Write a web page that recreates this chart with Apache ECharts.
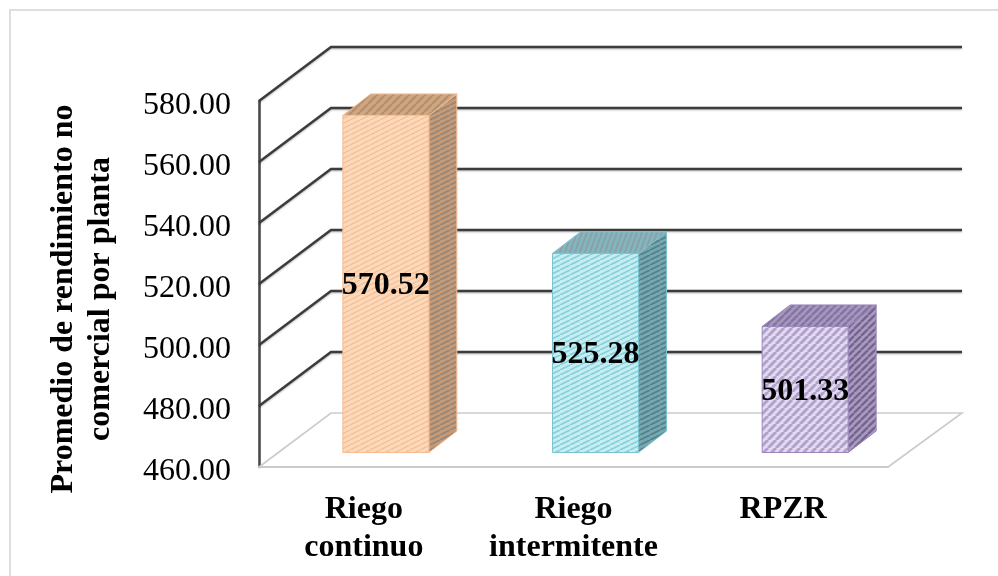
<!DOCTYPE html>
<html>
<head>
<meta charset="utf-8">
<style>html,body{margin:0;padding:0;background:#fff}#chart{width:998px;height:576px}</style>
<script src="https://cdn.jsdelivr.net/npm/echarts@6/dist/echarts.min.js"></script>
</head>
<body>
<div id="chart"></div>
<script>
const categories = ['Riego\ncontinuo', 'Riego\nintermitente', 'RPZR'];
const yields = [570.52, 525.28, 501.33];
const yTicks = [460, 480, 500, 520, 540, 560, 580];
const axisTitle = 'Promedio de rendimiento no\ncomercial por planta';

// Fake 3D depth of the chart box and of each column, in pixels.
const WALL = { dx: 72, dy: -54 };
const COLUMN = { width: 86, shiftX: 22, shiftY: -14.5, dx: 28, dy: -21.5 };
const SERIF = '"Liberation Serif", "Times New Roman", serif';

// Repeating stripe tile; run/rise set the slope of the stripes.
function hatch(bg, fg, run, rise, lw) {
  const c = document.createElement('canvas');
  c.width = run; c.height = rise;
  const g = c.getContext('2d');
  g.fillStyle = bg; g.fillRect(0, 0, run, rise);
  g.strokeStyle = fg; g.lineWidth = lw;
  [-1, 0, 1].forEach(function (k) {
    g.beginPath();
    g.moveTo(k * run, rise); g.lineTo((k + 1) * run, 0);
    g.stroke();
  });
  return { image: c, repeat: 'repeat' };
}

const skins = [
  { edge: '#f6bd94',
    front: hatch('#fcd9bb', '#f5bf96', 10, 5, 1.5),
    side: hatch('#c79a74', '#93877c', 10, 5, 1.8),
    top: hatch('#d2a680', '#b3906f', 8, 8, 2.4) },
  { edge: '#7cc3cf',
    front: hatch('#c6edf2', '#85d0da', 10, 5, 1.6),
    side: hatch('#74a9b2', '#55808a', 10, 5, 1.8),
    top: hatch('#7fb8bf', '#8e9fa8', 5, 14, 2) },
  { edge: '#9a86bb',
    front: hatch('#e2daee', '#b2a1cd', 8, 8, 3),
    side: hatch('#a99bc0', '#75648f', 7, 7, 2.4),
    top: hatch('#a597bf', '#85749f', 7, 7, 2.4) }
];

function poly(points, style) {
  return { type: 'polygon', shape: { points: points }, style: style };
}

// Back wall lines, side wall diagonals and the floor outline.
function renderFrame(params, api) {
  const v = api.value(0);
  const left = api.coord([0, v]);
  const rect = params.coordSys;
  const x0 = rect.x;
  const y = left[1];
  const floor = v === yTicks[0];
  const backRight = x0 + rect.width + WALL.dx + 2;
  const pts = [[x0, y], [x0 + WALL.dx, y + WALL.dy], [backRight, y + WALL.dy]];
  if (floor) pts.push([x0 + rect.width, y]);
  return { type: 'polyline', shape: { points: pts }, style: floor
    ? { fill: null, stroke: '#c9cbce', lineWidth: 1.6 }
    : { fill: null, stroke: '#3c3c3c', lineWidth: 2.4,
        shadowColor: 'rgba(0,0,0,0.28)', shadowBlur: 2, shadowOffsetY: 1 } };
}

function renderColumn(params, api) {
  const i = params.dataIndex;
  const skin = skins[i];
  const top = api.coord([api.value(0), api.value(1)]);
  const base = api.coord([api.value(0), yTicks[0]]);
  const xL = top[0] - COLUMN.width / 2 + COLUMN.shiftX;
  const xR = xL + COLUMN.width;
  const yT = top[1] + COLUMN.shiftY;
  const yB = base[1] + COLUMN.shiftY;
  const dx = COLUMN.dx, dy = COLUMN.dy;
  const line = { stroke: skin.edge, lineWidth: 1 };
  return { type: 'group', children: [
    poly([[xR, yT], [xR + dx, yT + dy], [xR + dx, yB + dy], [xR, yB]],
         Object.assign({ fill: skin.side }, line)),
    poly([[xL, yT], [xL + dx, yT + dy], [xR + dx, yT + dy], [xR, yT]],
         Object.assign({ fill: skin.top }, line)),
    poly([[xL, yT], [xR, yT], [xR, yB], [xL, yB]],
         Object.assign({ fill: skin.front }, line)),
    { type: 'text', z2: 10, style: {
        text: api.value(1).toFixed(2), x: (xL + xR) / 2, y: (yT + yB) / 2 + 2,
        align: 'center', verticalAlign: 'middle',
        font: 'bold 32px ' + SERIF, fill: '#000' } }
  ] };
}

const chart = echarts.init(document.getElementById('chart'), null, { renderer: 'canvas' });
chart.setOption({
  animation: false,
  backgroundColor: '#fff',
  graphic: [{ type: 'rect', silent: true, z: -1,
    shape: { x: 10, y: 10, width: 1000, height: 600 },
    style: { fill: '#fff', stroke: '#dedede', lineWidth: 2 } }],
  grid: { left: 259, top: 101, width: 629, height: 366, containLabel: false },
  xAxis: {
    type: 'category', data: categories,
    axisTick: { show: false },
    axisLine: { show: true, lineStyle: { color: '#c9cbce', width: 2.2 } },
    axisLabel: { color: '#000', fontFamily: SERIF, fontWeight: 'bold', fontSize: 32,
                 lineHeight: 38, margin: 24, interval: 0 }
  },
  yAxis: {
    type: 'value', min: yTicks[0], max: yTicks[yTicks.length - 1], interval: 20,
    name: axisTitle, nameLocation: 'middle', nameRotate: 90, nameGap: 140,
    nameTextStyle: { color: '#000', fontFamily: SERIF, fontWeight: 'bold', fontSize: 32,
                     lineHeight: 37, padding: [0, 30, 0, 0] },
    axisTick: { show: false },
    splitLine: { show: false },
    axisLine: { show: true, lineStyle: { color: '#4a4a4a', width: 2.6 } },
    axisLabel: { margin: 28,
                 formatter: function (v) { return '{t|' + v.toFixed(2) + '}'; },
                 rich: { t: { color: '#000', fontFamily: SERIF, fontSize: 32, padding: [10, 0, 0, 0] } } }
  },
  series: [
    { type: 'custom', renderItem: renderFrame, coordinateSystem: 'cartesian2d', clip: false, silent: true,
      encode: { y: 0 }, data: yTicks.map(function (t) { return [t]; }), z: 1 },
    { type: 'custom', renderItem: renderColumn, coordinateSystem: 'cartesian2d', clip: false, silent: true,
      encode: { x: 0, y: 1 }, data: yields.map(function (v, i) { return [i, v]; }), z: 3 }
  ]
});
</script>
</body>
</html>
